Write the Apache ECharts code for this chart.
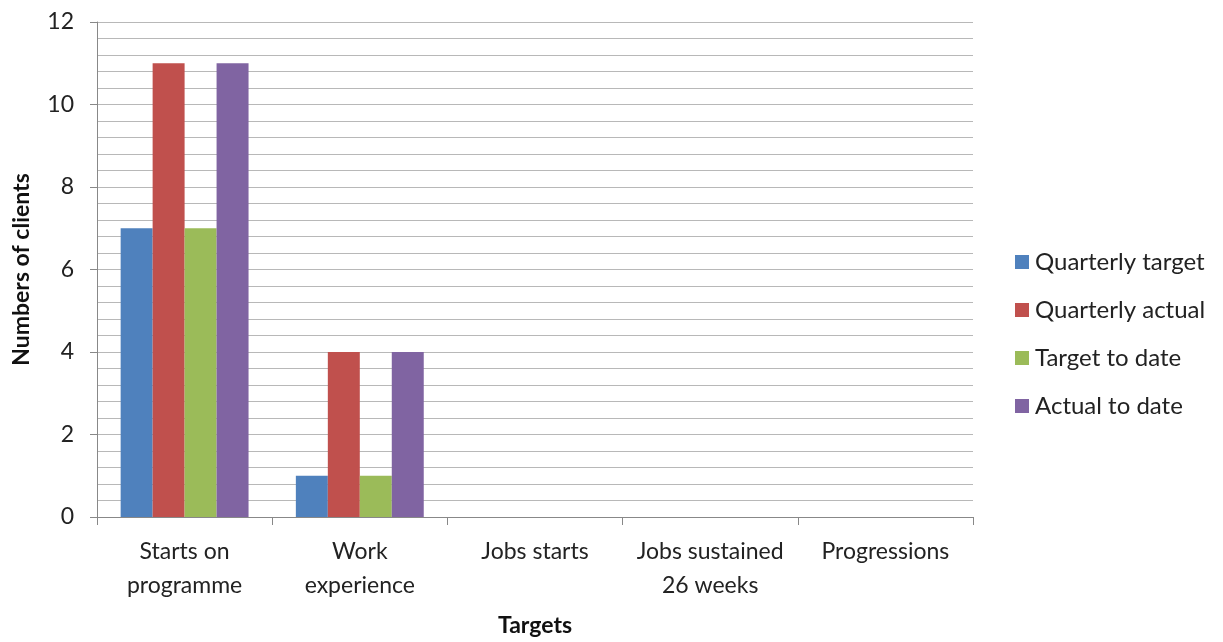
<!DOCTYPE html>
<html>
<head>
<meta charset="utf-8">
<script src="https://cdn.jsdelivr.net/npm/echarts@6/dist/echarts.min.js"></script>
<style>
  html, body { margin: 0; padding: 0; background: #fff; }
  #chart { width: 1223px; height: 642px; }
</style>
</head>
<body>
<div id="chart"></div>
<script>
// Programme targets versus actuals, by target type
const categories = ['Starts on\nprogramme', 'Work\nexperience', 'Jobs starts', 'Jobs sustained\n26 weeks', 'Progressions'];
const quarterlyTarget = [7, 1, 0, 0, 0];
const quarterlyActual = [11, 4, 0, 0, 0];
const targetToDate = [7, 1, 0, 0, 0];
const actualToDate = [11, 4, 0, 0, 0];
const seriesNames = ['Quarterly target', 'Quarterly actual', 'Target to date', 'Actual to date'];
const yTicks = [0, 2, 4, 6, 8, 10, 12];

const FONT = 'Lato, "Open Sans", sans-serif';
const colors = ['#4F81BD', '#C0504D', '#9BBB59', '#8064A2'];
const values = [quarterlyTarget, quarterlyActual, targetToDate, actualToDate];

const chart = echarts.init(document.getElementById('chart'), null, { renderer: 'canvas' });
chart.setOption({
  animation: false,
  textStyle: { fontFamily: FONT },
  grid: { left: 97, right: 250, top: 22, bottom: 124, containLabel: false },
  legend: {
    orient: 'vertical',
    left: 1015,
    top: 250,
    padding: 0,
    itemWidth: 14,
    itemHeight: 14,
    itemGap: 24,
    icon: 'rect',
    textStyle: { fontFamily: FONT, fontSize: 24, color: '#222', padding: [0, 0, 0, 1] },
    data: seriesNames
  },
  xAxis: {
    type: 'category',
    data: categories,
    name: 'Targets',
    nameLocation: 'middle',
    nameGap: 97,
    nameTextStyle: { fontFamily: FONT, fontSize: 23, fontWeight: 'bold', color: '#111' },
    axisLine: { lineStyle: { color: '#888', width: 1 } },
    axisTick: { show: true, length: 8, alignWithLabel: false, lineStyle: { color: '#888' } },
    axisLabel: { fontFamily: FONT, fontSize: 23, color: '#222', margin: 18, lineHeight: 34, interval: 0 }
  },
  yAxis: {
    type: 'value',
    min: 0,
    max: 12,
    interval: 2,
    name: 'Numbers of clients',
    nameLocation: 'middle',
    nameGap: 64,
    nameTextStyle: { fontFamily: FONT, fontSize: 23, fontWeight: 'bold', color: '#111' },
    axisLine: { show: true, lineStyle: { color: '#888', width: 1 } },
    axisTick: { show: true, length: 7, lineStyle: { color: '#888' } },
    axisLabel: {
      fontFamily: FONT, fontSize: 23, color: '#222', margin: 23,
      formatter: v => (yTicks.includes(v) ? String(v) : '')
    },
    splitLine: { show: true, lineStyle: { color: '#b8b8b8', width: 1 } },
    minorTick: { show: false, splitNumber: 5 },
    minorSplitLine: { show: true, lineStyle: { color: '#b8b8b8', width: 1 } }
  },
  series: seriesNames.map((name, i) => ({
    name,
    type: 'bar',
    data: values[i],
    barGap: '0%',
    barCategoryGap: '27%',
    itemStyle: { color: colors[i] }
  }))
});
</script>
</body>
</html>
